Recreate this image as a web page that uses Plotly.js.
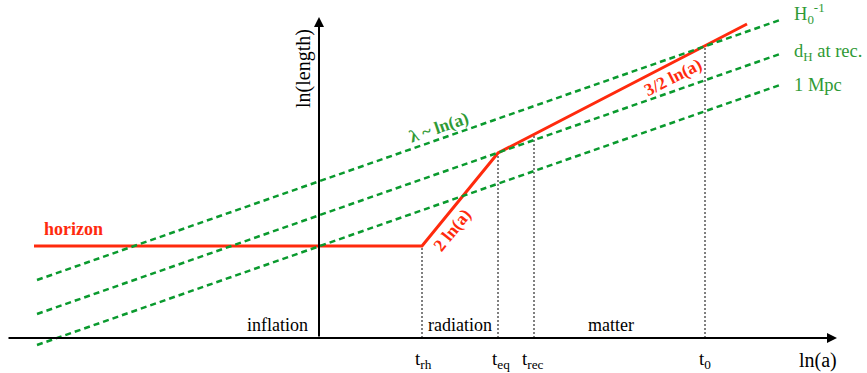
<!DOCTYPE html>
<html>
<head>
<meta charset="utf-8">
<script src="https://cdn.plot.ly/plotly-3.0.1.min.js"></script>
<style>
  html, body { margin: 0; padding: 0; background: #fff; }
  #chart { width: 867px; height: 373px; }
</style>
</head>
<body>
<div id="chart"></div>
<script>
// Schematic: comoving horizon vs. fixed comoving scales, in ln(a) / ln(length) units.
// The origin sits where the two axes cross.

// Horizon: flat during inflation, ~2 ln(a) in radiation, ~3/2 ln(a) in matter
const horizonLnA = [-285, 103, 179, 428];
const horizonLen = [92, 92, 185, 314];

// Fixed comoving scales (lambda ~ ln(a)), endpoints of each dashed line
const scaleLnA = [-282, 461];
const scaleNames = ["H<sub>0</sub><sup>-1</sup>", "d<sub>H</sub> at rec.", "1 Mpc"];
const scaleHubble = [58, 318];
const scaleDhRec = [24, 284];
const scaleMpc = [-7, 253];

// Epoch markers on the ln(a) axis and the horizon length at each
const epochNames = ["t<sub>rh</sub>", "t<sub>eq</sub>", "t<sub>rec</sub>", "t<sub>0</sub>"];
const epochLnA = [103, 179, 215, 386];
const epochLen = [92, 185, 204, 292];

// Era labels
const eraNames = ["inflation", "radiation", "matter"];
const eraLnA = [-42, 141, 292];

const RED = "#ff2a0d";
const GREEN = "#0a9a2e";
const GREEN_TXT = "#2f9a35";
const SERIF = "Liberation Serif, Times New Roman, serif";

const traces = [];

// vertical dotted markers
epochLnA.forEach((x, i) => {
  traces.push({
    x: [x, x], y: [0, epochLen[i]],
    mode: "lines", hoverinfo: "skip",
    line: { color: "#000", width: 1, dash: "2px,2px" }
  });
});

// horizon curve
traces.push({
  x: horizonLnA, y: horizonLen,
  mode: "lines", hoverinfo: "skip",
  line: { color: RED, width: 3 }
});

// comoving scales
[scaleHubble, scaleDhRec, scaleMpc].forEach(ys => {
  traces.push({
    x: scaleLnA, y: ys,
    mode: "lines", hoverinfo: "skip",
    line: { color: GREEN, width: 2.5, dash: "6px,4px" }
  });
});

const annotations = [];

// axes drawn as arrows
annotations.push({
  x: 518, y: 0, ax: -312, ay: 0, axref: "x", ayref: "y", xref: "x", yref: "y",
  text: "", showarrow: true, arrowhead: 2, arrowsize: 1, arrowwidth: 2, arrowcolor: "#000", standoff: 0
});
annotations.push({
  x: 0, y: 321, ax: 0, ay: 0, axref: "x", ayref: "y", xref: "x", yref: "y",
  text: "", showarrow: true, arrowhead: 2, arrowsize: 1, arrowwidth: 2, arrowcolor: "#000", standoff: 0
});

const txt = (text, x, y, opts) => Object.assign({
  text, x, y, xref: "x", yref: "y", showarrow: false,
  font: { family: SERIF, size: 18, color: "#000" }
}, opts || {});

annotations.push(txt("ln(length)", -16, 269, { textangle: -90, font: { family: SERIF, size: 20, color: "#000" } }));
annotations.push(txt("ln(a)", 499, -22, { font: { family: SERIF, size: 20, color: "#000" } }));

annotations.push(txt("<b>horizon</b>", -277, 109, { xanchor: "left", font: { family: SERIF, size: 18, color: RED } }));
annotations.push(txt("<b>λ ~ ln(a)</b>", 120, 211, { textangle: -19, font: { family: SERIF, size: 17.5, color: GREEN_TXT } }));
annotations.push(txt("<b>2 ln(a)</b>", 133, 108, { textangle: -51, font: { family: SERIF, size: 17.5, color: RED } }));
annotations.push(txt("<b>3/2 ln(a)</b>", 354, 261, { textangle: -27, font: { family: SERIF, size: 17.5, color: RED } }));

const scaleLabelY = [325, 286, 253];
scaleNames.forEach((n, i) => {
  annotations.push(txt(n, 473, scaleLabelY[i], { xanchor: "left", font: { family: SERIF, size: 18.5, color: GREEN_TXT } }));
});

eraNames.forEach((n, i) => {
  annotations.push(txt(n, eraLnA[i], 13));
});

const epochLabelX = [104, 182, 214, 386];
epochNames.forEach((n, i) => {
  annotations.push(txt(n, epochLabelX[i], -22, { font: { family: SERIF, size: 19, color: "#000" } }));
});

const layout = {
  width: 867, height: 373,
  margin: { l: 0, r: 0, t: 0, b: 0 },
  paper_bgcolor: "#fff", plot_bgcolor: "#fff",
  showlegend: false,
  xaxis: { range: [-319, 548], visible: false, fixedrange: true },
  yaxis: { range: [-35, 338], visible: false, fixedrange: true },
  annotations
};

Plotly.newPlot("chart", traces, layout, { staticPlot: true });
</script>
</body>
</html>
